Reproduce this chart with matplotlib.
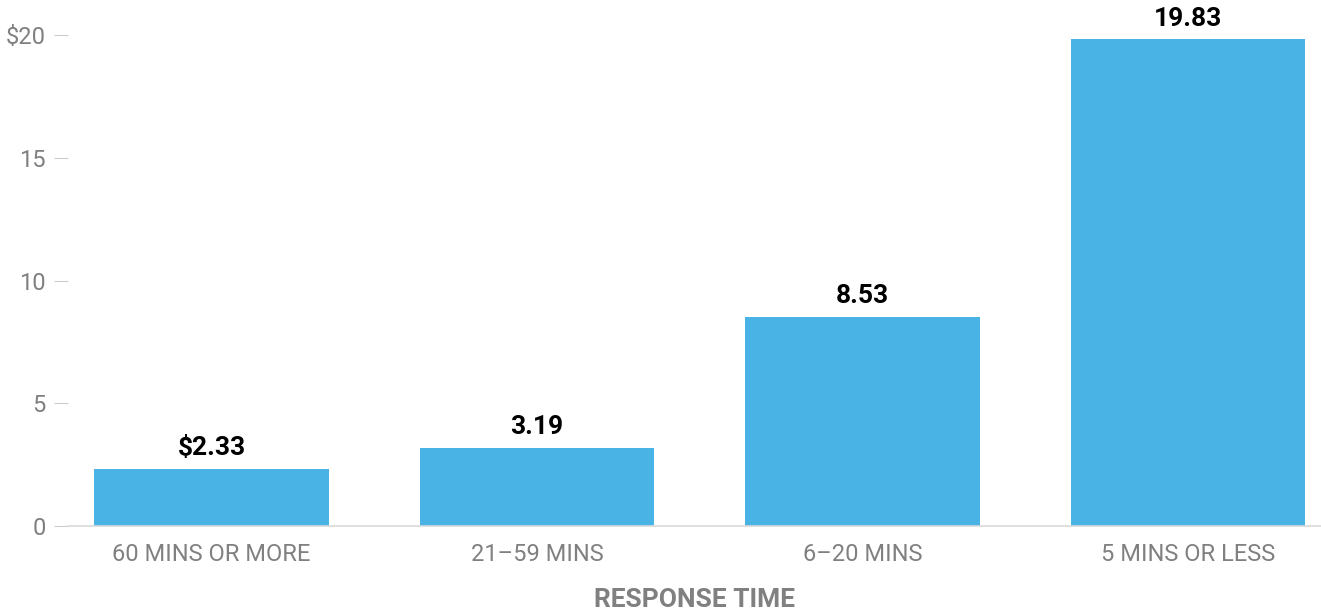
import matplotlib
matplotlib.use("Agg")
import matplotlib.pyplot as plt

# data
categories = ["60 MINS OR MORE", "21\u201359 MINS", "6\u201320 MINS", "5 MINS OR LESS"]
values = [2.33, 3.19, 8.53, 19.83]
value_labels = ["$2.33", "3.19", "8.53", "19.83"]
y_ticks = [0, 5, 10, 15, 20]
y_tick_labels = ["0", "5", "10", "15", "$20"]

BAR_COLOR = "#4AB3E6"
GREY = "#808080"

plt.rcParams["font.family"] = ["Roboto", "DejaVu Sans"]

fig = plt.figure(figsize=(13.21, 6.11), dpi=100)
ax = fig.add_axes([68 / 1321, 85 / 611, (1321 - 68) / 1321, 526 / 611])

x = range(len(categories))
bars = ax.bar(x, values, width=0.72, color=BAR_COLOR, zorder=2)

for bar, lab in zip(bars, value_labels):
    ax.annotate(lab, (bar.get_x() + bar.get_width() / 2, bar.get_height()),
                xytext=(0, 6), textcoords="offset points",
                ha="center", va="bottom", fontsize=19, fontweight="bold",
                color="black")

ax.set_xlim(-0.441, 3.409)
ax.set_ylim(0, 21.43)

ax.set_xticks(list(x))
ax.set_xticklabels(categories, fontsize=17, color=GREY)
ax.set_yticks(y_ticks)
ax.set_yticklabels(y_tick_labels, fontsize=17, color=GREY)

ax.tick_params(axis="x", length=0, pad=12)
ax.tick_params(axis="y", direction="out", length=10, width=0.8,
               color="#cccccc", pad=6)

for side in ["top", "right", "left"]:
    ax.spines[side].set_visible(False)
ax.spines["bottom"].set_color("#d9d9d9")
ax.spines["bottom"].set_linewidth(1.2)

ax.set_xlabel("RESPONSE TIME", fontsize=19, fontweight="bold", color=GREY,
              labelpad=16)

fig.savefig("out.png", dpi=100)
